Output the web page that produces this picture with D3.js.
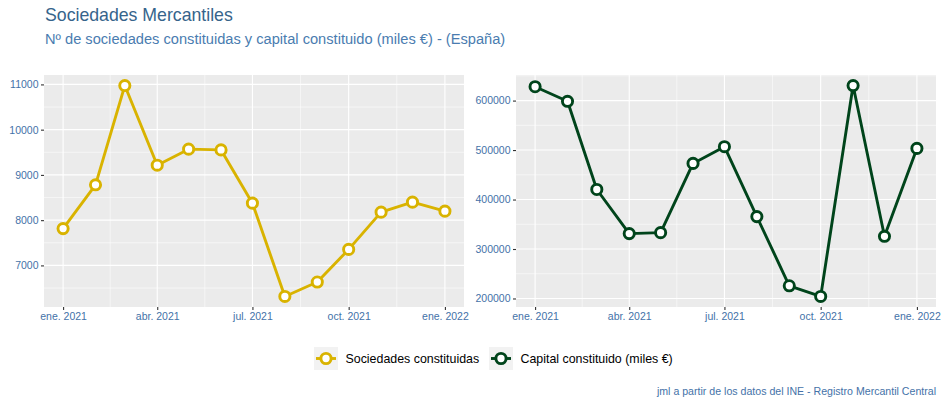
<!DOCTYPE html>
<html><head><meta charset="utf-8">
<script src="https://cdn.jsdelivr.net/npm/d3@7"></script>
<style>
body{margin:0;background:#fff;}
svg{display:block;font-family:"Liberation Sans",Arial,sans-serif;}
</style></head>
<body><svg id="c" width="944" height="404"></svg>
<script>
const months = ["2021-01","2021-02","2021-03","2021-04","2021-05","2021-06","2021-07","2021-08","2021-09","2021-10","2021-11","2021-12","2022-01"];
const sociedades = [7814, 8781, 10975, 9215, 9569, 9553, 8376, 6314, 6633, 7354, 8177, 8398, 8199];
const capital = [628000, 598600, 420300, 331100, 333100, 473000, 506800, 365500, 225700, 204100, 630400, 325700, 503400];
const xTickDates = ["2021-01","2021-04","2021-07","2021-10","2022-01"];
const xTickLabels = ["ene. 2021","abr. 2021","jul. 2021","oct. 2021","ene. 2022"];
const leftTicks = [7000, 8000, 9000, 10000, 11000];
const rightTicks = [200000, 300000, 400000, 500000, 600000];
const seriesNames = ["Sociedades constituidas","Capital constituido (miles €)"];
const colors = ["#d9b300","#00441b"];

const parseM = s => { const [y,m] = s.split("-").map(Number); return new Date(Date.UTC(y, m-1, 1)); };
const dates = months.map(parseM);
const tickDates = xTickDates.map(parseM);

const svg = d3.select("#c");
const tickCol = "#4472a8";
const ptR = 5.1, lw = 2.9;

function panel(x0, x1, y0, y1, values, yTicks, color) {
  const g = svg.append("g");
  const dExt = d3.extent(dates);
  const dSpan = dExt[1] - dExt[0];
  const x = d3.scaleUtc().domain([new Date(+dExt[0] - 0.05*dSpan), new Date(+dExt[1] + 0.05*dSpan)]).range([x0, x1]);
  const vExt = d3.extent(values);
  const vSpan = vExt[1] - vExt[0];
  const y = d3.scaleLinear().domain([vExt[0] - 0.05*vSpan, vExt[1] + 0.05*vSpan]).range([y1, y0]);
  g.append("rect").attr("x", x0).attr("y", y0).attr("width", x1-x0).attr("height", y1-y0).attr("fill", "#ebebeb");
  // minor grid
  const step = yTicks[1] - yTicks[0];
  const minorY = [];
  for (let v = yTicks[0] - step/2; v <= y.domain()[1]; v += step) if (v >= y.domain()[0]) minorY.push(v);
  const minorX = [];
  for (let i = 0; i < tickDates.length - 1; i++) minorX.push(new Date((+tickDates[i] + +tickDates[i+1]) / 2));
  g.selectAll(".my").data(minorY).join("line").attr("x1", x0).attr("x2", x1)
    .attr("y1", d => y(d)).attr("y2", d => y(d)).attr("stroke", "#fff").attr("stroke-width", 0.55);
  g.selectAll(".mx").data(minorX).join("line").attr("y1", y0).attr("y2", y1)
    .attr("x1", d => x(d)).attr("x2", d => x(d)).attr("stroke", "#fff").attr("stroke-width", 0.55);
  // major grid
  g.selectAll(".gy").data(yTicks).join("line").attr("x1", x0).attr("x2", x1)
    .attr("y1", d => y(d)).attr("y2", d => y(d)).attr("stroke", "#fff").attr("stroke-width", 1.1);
  g.selectAll(".gx").data(tickDates).join("line").attr("y1", y0).attr("y2", y1)
    .attr("x1", d => x(d)).attr("x2", d => x(d)).attr("stroke", "#fff").attr("stroke-width", 1.1);
  // axes
  const ay = g.append("g").attr("transform", `translate(${x0},0)`)
    .call(d3.axisLeft(y).tickValues(yTicks).tickFormat(d3.format("d")).tickSize(3).tickPadding(2.5));
  const ax = g.append("g").attr("transform", `translate(0,${y1})`)
    .call(d3.axisBottom(x).tickValues(tickDates).tickFormat((d,i) => xTickLabels[i]).tickSize(3).tickPadding(2.5));
  [ay, ax].forEach(a => {
    a.select(".domain").remove();
    a.selectAll(".tick line").attr("stroke", "#333").attr("stroke-width", 1.1);
    a.selectAll(".tick text").attr("fill", tickCol).attr("font-size", "10.5px").attr("font-family", "Liberation Sans, Arial, sans-serif");
  });
  // line + points
  const line = d3.line().x((d,i) => x(dates[i])).y(d => y(d));
  g.append("path").datum(values).attr("d", line).attr("fill", "none").attr("stroke", color).attr("stroke-width", lw).attr("stroke-linejoin", "round");
  g.selectAll(".pt").data(values).join("circle").attr("cx", (d,i) => x(dates[i])).attr("cy", d => y(d))
    .attr("r", ptR).attr("fill", "#fff").attr("stroke", color).attr("stroke-width", lw);
}

panel(44, 464, 75, 307, sociedades, leftTicks, colors[0]);
panel(516, 936, 75, 307, capital, rightTicks, colors[1]);

// titles
svg.append("text").attr("x", 45).attr("y", 20.5).attr("font-size", "17.7px").attr("fill", "#36648b").text("Sociedades Mercantiles");
svg.append("text").attr("x", 45).attr("y", 44).attr("font-size", "14.65px").attr("fill", "#4a7cb0").text("Nº de sociedades constituidas y capital constituido (miles €) - (España)");

// legend
const legX = [314, 489];
seriesNames.forEach((name, i) => {
  const lg = svg.append("g");
  lg.append("rect").attr("x", legX[i]).attr("y", 347).attr("width", 24).attr("height", 23).attr("fill", "#f2f2f2");
  lg.append("line").attr("x1", legX[i]+2).attr("x2", legX[i]+22).attr("y1", 358.5).attr("y2", 358.5).attr("stroke", colors[i]).attr("stroke-width", lw);
  lg.append("circle").attr("cx", legX[i]+12).attr("cy", 358.5).attr("r", ptR).attr("fill", "#fff").attr("stroke", colors[i]).attr("stroke-width", lw);
  lg.append("text").attr("x", legX[i]+31.5).attr("y", 363).attr("font-size", "12.4px").attr("fill", "#000").text(name);
});

// caption
svg.append("text").attr("x", 936).attr("y", 394.5).attr("text-anchor", "end").attr("font-size", "10.6px").attr("fill", "#4472a8")
  .text("jml a partir de los datos del INE - Registro Mercantil Central");
</script></body></html>
